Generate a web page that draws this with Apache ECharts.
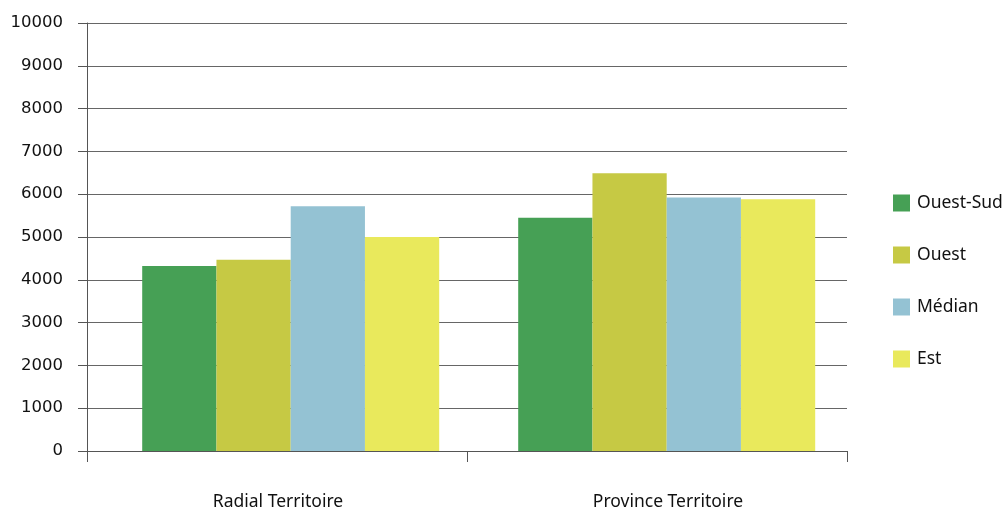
<!DOCTYPE html>
<html>
<head>
<meta charset="utf-8">
<script src="https://cdn.jsdelivr.net/npm/echarts@6/dist/echarts.min.js"></script>
<style>html,body{margin:0;padding:0;background:#fff;}#c{width:1005px;height:508px;}</style>
</head>
<body>
<div id="c"></div>
<script>
const categories = ['Radial Territoire', 'Province Territoire'];
const seriesNames = ['Ouest-Sud', 'Ouest', 'Médian', 'Est'];
const ouestSud = [4320, 5450];
const ouest = [4470, 6490];
const median = [5720, 5925];
const est = [5000, 5880];
const colors = ['#46a055', '#c6c944', '#94c2d3', '#e9e95c'];
const yTicks = [0, 10000, 1000];

const values = [ouestSud, ouest, median, est];
const chart = echarts.init(document.getElementById('c'));
chart.setOption({
  animation: false,
  legend: {
    orient: 'vertical', left: 893, top: 194, padding: 0,
    itemWidth: 17, itemHeight: 17, itemGap: 34,
    icon: 'rect',
    textStyle: { fontFamily: 'Noto Sans', fontSize: 17.5, color: '#111', padding: [0, 0, 0, 2] },
    data: seriesNames
  },
  grid: [
    { left: 87, right: 158, top: 23, bottom: 57, containLabel: false, outerBoundsMode: 'none' },
    { left: 102.7, right: 150.3, top: 23, bottom: 57, containLabel: false, outerBoundsMode: 'none' }
  ],
  xAxis: [
    {
      type: 'category', gridIndex: 0, data: categories,
      axisLine: { lineStyle: { color: '#555', width: 1 } },
      axisTick: { show: true, length: 11, lineStyle: { color: '#555' } },
      axisLabel: {
        margin: 42, fontFamily: 'Noto Sans', fontSize: 17.5, color: '#111',
        formatter: function (v, i) { return i === 1 ? '{b|' + v + '}' : '{a|' + v + '}'; },
        rich: {
          a: { fontFamily: 'Noto Sans', fontSize: 17.5, color: '#111', padding: [0, 0, 0, 2] },
          b: { fontFamily: 'Noto Sans', fontSize: 17.5, color: '#111', padding: [0, 0, 0, 22] }
        }
      }
    },
    { type: 'category', gridIndex: 1, data: categories, show: false }
  ],
  yAxis: [
    {
      type: 'value', gridIndex: 0, min: yTicks[0], max: yTicks[1], interval: yTicks[2],
      axisLine: { show: true, lineStyle: { color: '#555', width: 1 } },
      axisTick: { show: true, length: 9, lineStyle: { color: '#555' } },
      splitLine: { show: true, lineStyle: { color: '#666', width: 1 } },
      axisLabel: {
        margin: 24, fontFamily: 'DejaVu Sans', fontSize: 16.5, color: '#111',
        padding: [0, 0, 9, 0],
        formatter: function (v) { return String(v); }
      }
    },
    { type: 'value', gridIndex: 1, min: yTicks[0], max: yTicks[1], show: false }
  ],
  series: seriesNames.map(function (n, i) {
    return {
      name: n, type: 'bar', xAxisIndex: 1, yAxisIndex: 1,
      data: values[i], barWidth: 74.25, barGap: '0%',
      itemStyle: { color: colors[i] }
    };
  })
});
</script>
</body>
</html>
